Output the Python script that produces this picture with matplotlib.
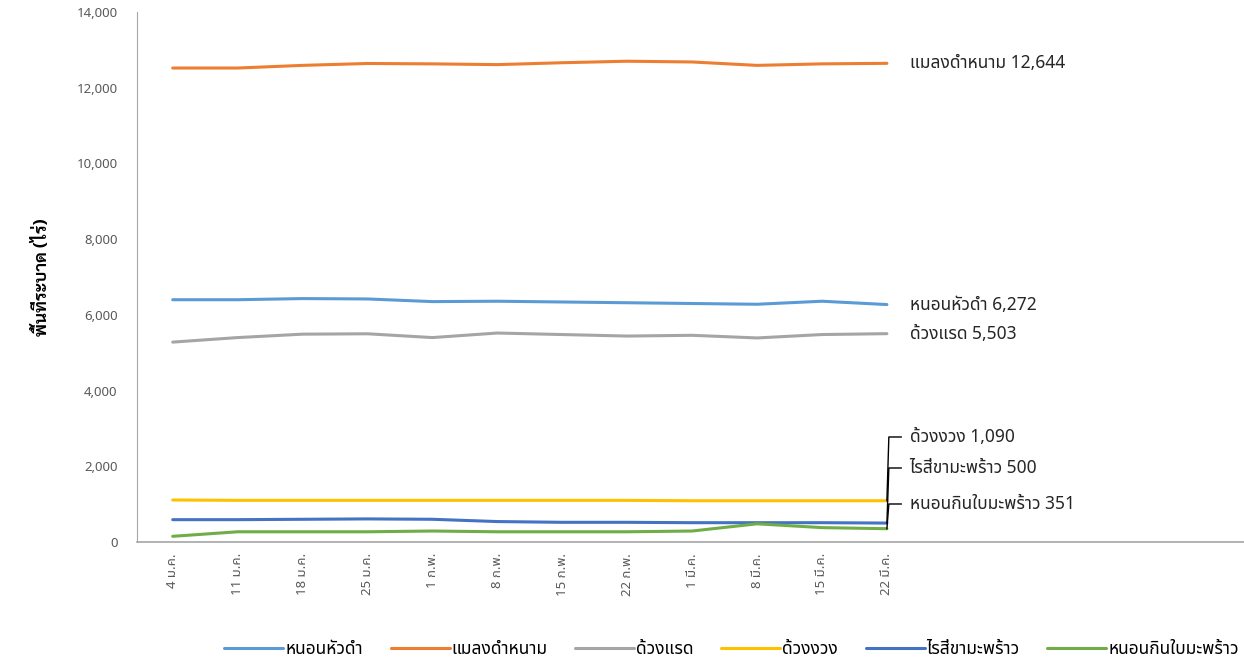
import matplotlib
matplotlib.use('Agg')
import matplotlib.pyplot as plt

plt.rcParams['font.family'] = ['Noto Sans Thai', 'Sarabun', 'Bai Jamjuree', 'DejaVu Sans']

weeks = ['4 ม.ค.', '11 ม.ค.', '18 ม.ค.', '25 ม.ค.', '1 ก.พ.', '8 ก.พ.',
         '15 ก.พ.', '22 ก.พ.', '1 มี.ค.', '8 มี.ค.', '15 มี.ค.', '22 มี.ค.']

head_worm = [6400, 6400, 6430, 6420, 6350, 6360, 6340, 6320, 6300, 6280, 6360, 6272]
black_beetle = [12520, 12520, 12590, 12640, 12630, 12610, 12660, 12700, 12680, 12590, 12630, 12644]
rhino_beetle = [5280, 5400, 5490, 5500, 5400, 5520, 5480, 5440, 5460, 5390, 5480, 5503]
weevil = [1110, 1100, 1100, 1100, 1100, 1100, 1100, 1100, 1090, 1090, 1090, 1090]
mite = [590, 590, 600, 610, 600, 540, 520, 520, 510, 510, 510, 500]
leaf_worm = [150, 270, 270, 270, 290, 270, 270, 270, 290, 480, 380, 351]

names = ['หนอนหัวดำ', 'แมลงดำหนาม', 'ด้วงแรด', 'ด้วงงวง', 'ไรสี่ขามะพร้าว', 'หนอนกินใบมะพร้าว']
series = [head_worm, black_beetle, rhino_beetle, weevil, mite, leaf_worm]
colors = ['#5B9BD5', '#ED7D31', '#A5A5A5', '#FFC000', '#4472C4', '#70AD47']

fig = plt.figure(figsize=(12.44, 6.66), dpi=100)
ax = fig.add_axes([137 / 1244, 124 / 666, 1 - 137 / 1244, 530 / 666])

x = list(range(len(weeks)))
for name, vals, c in zip(names, series, colors):
    ax.plot(x, vals, color=c, lw=2.2, label=name, solid_capstyle='round')

ax.set_ylim(0, 14000)
ax.set_xlim(-0.55, 16.5)
ax.set_yticks(range(0, 14001, 2000))
ax.set_yticklabels(['{:,}'.format(v) for v in range(0, 14001, 2000)])
ax.set_xticks(x)
ax.set_xticklabels(weeks, rotation=90)
ax.tick_params(axis='both', length=0, colors='#595959', labelsize=9.5)
ax.tick_params(axis='x', pad=8)
ax.tick_params(axis='y', pad=14)
for s in ['top', 'right']:
    ax.spines[s].set_visible(False)
ax.spines['left'].set_color('#A6A6A6')
ax.spines['bottom'].set_color('#A6A6A6')
ax.spines['bottom'].set_linewidth(1.2)

ax.set_ylabel('พื้นที่ระบาด (ไร่)', fontsize=12.5, fontweight='bold', labelpad=18,
              family=['Sarabun', 'DejaVu Sans'])

last = len(weeks) - 1
lx = last + 0.35
# labels that sit beside their point
for vals, name in [(black_beetle, names[1]), (head_worm, names[0]), (rhino_beetle, names[2])]:
    ax.text(lx, vals[-1], '{} {:,}'.format(name, vals[-1]), va='center', ha='left',
            fontsize=12.5, color='#262626')

# labels pulled up with leader lines
label_y = [2774, 1955, 1004]
for vals, name, ly in zip([weevil, mite, leaf_worm], [names[3], names[4], names[5]], label_y):
    ax.text(lx, ly, '{} {:,}'.format(name, vals[-1]), va='center', ha='left',
            fontsize=12.5, color='#262626')
    ax.plot([last, last + 0.03, last + 0.22], [vals[-1], ly, ly], color='black', lw=1)

fig.legend(loc='center', bbox_to_anchor=(0.588, 0.025), ncol=6, frameon=False,
           fontsize=12.5, handlelength=3.4, columnspacing=1.6, handletextpad=0.1)

fig.savefig('out.png', dpi=100)
